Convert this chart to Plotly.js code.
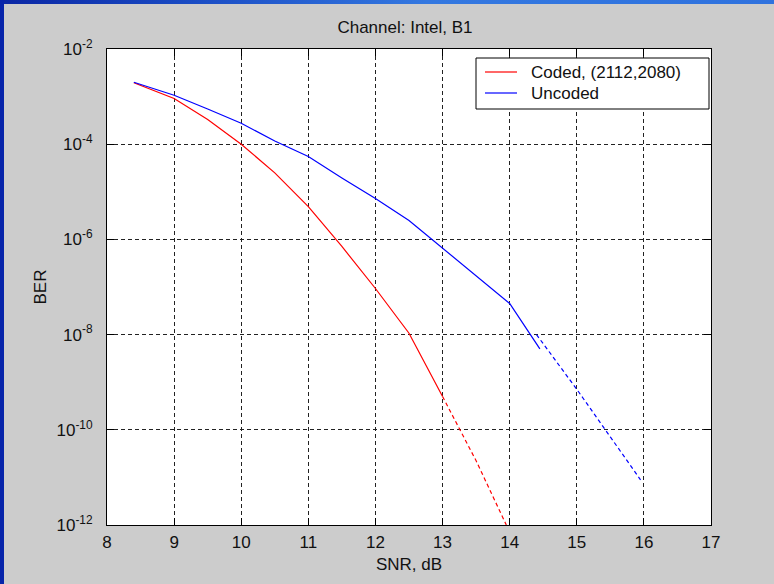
<!DOCTYPE html>
<html>
<head>
<meta charset="utf-8">
<script src="https://cdn.plot.ly/plotly-3.0.1.min.js"></script>
<style>
  html, body { margin: 0; padding: 0; background: #cccccc; overflow: hidden; }
  #chart { position: absolute; left: 0; top: 0; width: 774px; height: 584px; }
  #edgeTop { position: absolute; left: 0; top: 0; width: 774px; height: 4px; z-index: 5;
    background: linear-gradient(to right, #0a26a4 0%, #1a4cc4 25%, #3478e0 55%, #2f72de 100%); }
  #edgeLeft { position: absolute; left: 0; top: 0; width: 4px; height: 584px; z-index: 5; background: #0724aa; }
</style>
</head>
<body>
<div id="chart"></div>
<div id="edgeTop"></div>
<div id="edgeLeft"></div>
<script>
// Coded (2112,2080) BER curve: simulated part, then extrapolated tail
const snrCoded    = [8.4, 9, 9.5, 10, 10.5, 11, 11.5, 12, 12.5, 13];
const berCoded    = [1.96e-3, 9.1e-4, 3.3e-4, 1.0e-4, 2.5e-5, 4.9e-6, 7.1e-7, 9.3e-8, 1.07e-8, 5.0e-10];
const snrCodedExt = [13, 13.5, 13.95];
const berCodedExt = [5.0e-10, 2.24e-11, 1.0e-12];

// Uncoded BER curve: simulated part, then extrapolated tail
const snrUncoded    = [8.4, 9, 9.5, 10, 10.5, 11, 11.5, 12, 12.5, 13, 13.5, 14, 14.45];
const berUncoded    = [2.0e-3, 1.07e-3, 5.5e-4, 2.75e-4, 1.17e-4, 5.5e-5, 1.95e-5, 7.2e-6, 2.5e-6, 6.5e-7, 1.7e-7, 4.5e-8, 5.0e-9];
const snrUncodedExt = [14.4, 15, 15.5, 15.95];
const berUncodedExt = [1.0e-8, 7.1e-10, 7.1e-11, 8.9e-12];

// Axis ticks
const xTicks = [8, 9, 10, 11, 12, 13, 14, 15, 16, 17];
const yTickVals = [1e-12, 1e-10, 1e-8, 1e-6, 1e-4, 1e-2];
const yTickText = ['10<sup>-12</sup>', '10<sup>-10</sup>', '10<sup>-8</sup>', '10<sup>-6</sup>', '10<sup>-4</sup>', '10<sup>-2</sup>'];

const seriesNames = ['Coded, (2112,2080)', 'Uncoded'];

const FONT = 'Arial, "Liberation Sans", Helvetica, sans-serif';
const RED = '#ff0000', BLUE = '#0000ff';
const seriesColors = [RED, BLUE];

const traces = [
  { x: snrCoded, y: berCoded, type: 'scatter', mode: 'lines', name: seriesNames[0],
    line: { color: RED, width: 1.2 } },
  { x: snrUncoded, y: berUncoded, type: 'scatter', mode: 'lines', name: seriesNames[1],
    line: { color: BLUE, width: 1.2 } },
  { x: snrCodedExt, y: berCodedExt, type: 'scatter', mode: 'lines', showlegend: false,
    line: { color: RED, width: 1.2, dash: '4px,3px' } },
  { x: snrUncodedExt, y: berUncodedExt, type: 'scatter', mode: 'lines', showlegend: false,
    line: { color: BLUE, width: 1.2, dash: '4px,3px' } }
];

const axisCommon = {
  showline: true, linecolor: '#000', linewidth: 1, mirror: 'ticks',
  ticks: 'inside', ticklen: 7, tickcolor: '#000', tickwidth: 1,
  showgrid: true, gridcolor: '#222', gridwidth: 1, griddash: '4px,3px',
  zeroline: false,
  tickfont: { family: FONT, size: 17, color: '#111' }
};

// Plot-area geometry (pixels) used to place the boxed legend in paper units
const PL = 107, PR = 711, PT = 49, PB = 525;
const px2x = p => (p - PL) / (PR - PL);
const px2y = p => (PB - p) / (PB - PT);

// Boxed legend in the upper right corner
const legendBox = { left: 476, right: 709, top: 58, bottom: 109 };
const legendRows = [72, 93];
const shapes = [{
  type: 'rect', xref: 'paper', yref: 'paper', layer: 'above',
  x0: px2x(legendBox.left), x1: px2x(legendBox.right),
  y0: px2y(legendBox.bottom), y1: px2y(legendBox.top),
  fillcolor: '#ffffff', line: { color: '#000', width: 1 }
}];
const annotations = [];
seriesNames.forEach((name, i) => {
  shapes.push({
    type: 'line', xref: 'paper', yref: 'paper', layer: 'above',
    x0: px2x(485), x1: px2x(517), y0: px2y(legendRows[i]), y1: px2y(legendRows[i]),
    line: { color: seriesColors[i], width: 1.2 }
  });
  annotations.push({
    xref: 'paper', yref: 'paper', x: px2x(529), y: px2y(legendRows[i]),
    xanchor: 'left', yanchor: 'middle', showarrow: false, text: name,
    font: { family: FONT, size: 17, color: '#111' }
  });
});

const layout = {
  width: 774, height: 584,
  paper_bgcolor: '#cccccc', plot_bgcolor: '#ffffff',
  margin: { l: PL, r: 774 - PR, t: PT, b: 584 - PB, pad: 0 },
  font: { family: FONT, size: 17, color: '#111' },
  title: { text: 'Channel: Intel, B1', x: 405 / 774, xref: 'container', xanchor: 'center',
           y: 1 - 27 / 584, yref: 'container', yanchor: 'middle',
           font: { family: FONT, size: 17, color: '#111' } },
  xaxis: Object.assign({}, axisCommon, {
    range: [8, 17], tickvals: xTicks, ticktext: xTicks.map(String),
    ticklabelstandoff: 2,
    title: { text: 'SNR, dB', standoff: 6, font: { family: FONT, size: 17, color: '#111' } }
  }),
  yaxis: Object.assign({}, axisCommon, {
    type: 'log', range: [-12, -2], tickvals: yTickVals, ticktext: yTickText,
    ticklabelstandoff: 10,
    title: { text: 'BER', standoff: 5, font: { family: FONT, size: 17, color: '#111' } }
  }),
  shapes: shapes,
  annotations: annotations,
  showlegend: false
};

Plotly.newPlot('chart', traces, layout, { displayModeBar: false, staticPlot: true });
</script>
</body>
</html>
